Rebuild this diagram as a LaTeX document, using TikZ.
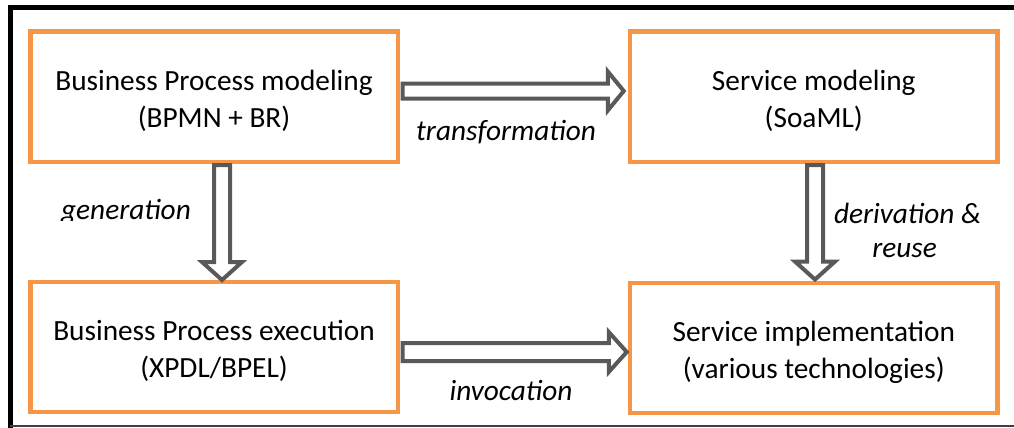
\documentclass[tikz,border=0pt]{standalone}
\usepackage{fontspec}
\setmainfont{Carlito}
\usetikzlibrary{calc}
\definecolor{boxorange}{HTML}{F79646}
\definecolor{arrowgray}{HTML}{595959}
\definecolor{framegray}{HTML}{404040}
\newcommand{\harrowdraw}[5]{% from, tip, head length, shaft half, head half
  \draw[blockarrow] let \p1=(#1), \p2=(#2) in
    (\x1,{\y1+#4}) -- ({\x2-#3},{\y1+#4}) -- ({\x2-#3},{\y1+#5}) -- (\x2,\y1)
    -- ({\x2-#3},{\y1-#5}) -- ({\x2-#3},{\y1-#4}) -- (\x1,{\y1-#4}) -- cycle;}
\newcommand{\varrowdraw}[5]{% from, tip (below), head length, shaft half, head half
  \draw[blockarrow] let \p1=(#1), \p2=(#2) in
    ({\x1-#4},\y1) -- ({\x1-#4},{\y2+#3}) -- ({\x1-#5},{\y2+#3}) -- (\x1,\y2)
    -- ({\x1+#5},{\y2+#3}) -- ({\x1+#4},{\y2+#3}) -- ({\x1+#4},\y1) -- cycle;}
\newcommand{\boxtext}[2]{\raisebox{0pt}[\dimexpr\height+10pt\relax][\depth]{\begin{tabular}{@{}c@{}}#1\\#2\end{tabular}}}
\begin{document}
\begin{tikzpicture}[x=1pt,y=-1pt,
  procbox/.style={draw=boxorange, line width=4.5pt, fill=white, minimum width=367.5pt,
    minimum height=130pt, inner sep=0pt, align=center, font=\fontsize{29.3}{36.5}\selectfont},
  blockarrow/.style={draw=arrowgray, line width=4pt, fill=white, line join=miter, miter limit=10},
  lbl/.style={font=\fontsize{29.3}{34}\selectfont\itshape, inner sep=0pt, anchor=base}]
\useasboundingbox (0,0) rectangle (1014,428);
\fill[white] (0,0) rectangle (1014,428);
% outer frame
\draw[line width=5pt, black] (1014,8) -- (10,8) -- (10,428);
\draw[line width=2.3pt, framegray] (10,426) -- (1014,426);
% boxes
\node[procbox] (bpm) at (214,96.75) {\boxtext{Business Process modeling}{(BPMN + BR)}};
\node[procbox] (sm)  at (813.75,96.75) {\boxtext{Service modeling}{(SoaML)}};
\node[procbox] (bpe) at (214,346.75) {\boxtext{Business Process execution}{(XPDL/BPEL)}};
\node[procbox] (sim) at (813.75,347.75) {\boxtext{Service implementation}{(various technologies)}};
% arrow end points
\coordinate (tA) at ($(bpm.east)+(2.5,-5.75)$);
\coordinate (tB) at ($(sm.west)+(-4,-5.75)$);
\coordinate (iA) at ($(bpe.east)+(2.5,5.25)$);
\coordinate (iB) at ($(sim.west)+(-1,4.25)$);
\coordinate (gA) at ($(bpm.south)+(8,1)$);
\coordinate (gB) at ($(bpe.north)+(8,0.5)$);
\coordinate (dA) at ($(sm.south)+(1.25,1)$);
\coordinate (dB) at ($(sim.north)+(1.25,-1)$);
\harrowdraw{tA}{tB}{16pt}{7.5pt}{19.5pt}
\harrowdraw{iA}{iB}{18pt}{9pt}{20pt}
\varrowdraw{gA}{gB}{18pt}{8pt}{20pt}
\varrowdraw{dA}{dB}{18pt}{8pt}{20pt}
% labels
\node[lbl] (ltrans) at (506,140) {transformation};
\node[lbl] (linv) at (511,400) {invocation};
\begin{scope}
  \clip (40,185) rectangle (205,220);
  \node[lbl] (lgen) at (126,219) {generation};
\end{scope}
\node[lbl] (lder) at (907.5,223) {derivation \&};
\node[lbl] (lreu) at (904.5,257) {reuse};
\end{tikzpicture}
\end{document}
